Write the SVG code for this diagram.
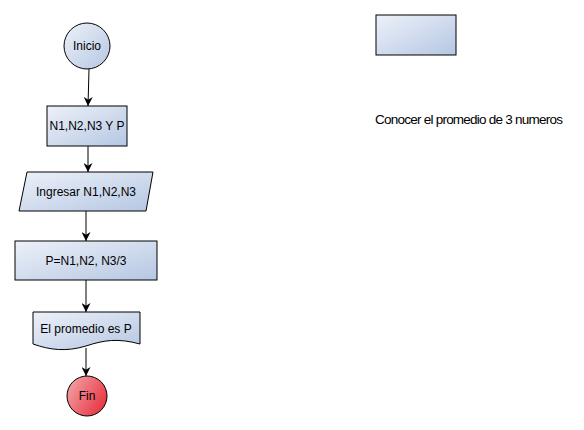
<svg xmlns="http://www.w3.org/2000/svg" width="584" height="430" viewBox="0 0 584 430">
  <defs>
    <linearGradient id="blueFill" x1="0" y1="0" x2="1" y2="1">
      <stop offset="0" stop-color="#edf1f9"/>
      <stop offset="1" stop-color="#b5c7e2"/>
    </linearGradient>
    <linearGradient id="redFill" x1="0" y1="0" x2="1" y2="0.6">
      <stop offset="0" stop-color="#f4aab0"/>
      <stop offset="1" stop-color="#e83a45"/>
    </linearGradient>
    <marker id="arrow" viewBox="0 0 10 10" refX="10" refY="5" markerWidth="9" markerHeight="9" markerUnits="userSpaceOnUse" orient="auto">
      <path d="M0,0 L10,5 L0,10 L3,5 Z" fill="#000"/>
    </marker>
    <style>
      .shape { fill: url(#blueFill); stroke: #000; stroke-width: 1; }
      .end { fill: url(#redFill); stroke: #000; stroke-width: 1; }
      .label { font-family: "Liberation Sans", Arial, sans-serif; font-size: 12px; fill: #000; text-anchor: middle; }
      .note { font-family: "Liberation Sans", Arial, sans-serif; font-size: 13.5px; fill: #000; }
      .conn { stroke: #000; stroke-width: 1; fill: none; marker-end: url(#arrow); }
    </style>
  </defs>
  <rect width="584" height="430" fill="#fff"/>

  <g id="connectors">
    <path class="conn" d="M89,69 L88,106"/>
    <path class="conn" d="M88,146 L88,172"/>
    <path class="conn" d="M86,211 L86,241"/>
    <path class="conn" d="M86,280 L86,312"/>
    <path class="conn" d="M86,348 L86,376"/>
  </g>

  <g id="inicio">
    <circle class="shape" cx="87" cy="46" r="23"/>
    <text class="label" x="87" y="50">Inicio</text>
  </g>

  <g id="variables">
    <rect class="shape" x="47" y="106" width="80" height="40"/>
    <text class="label" x="87" y="130">N1,N2,N3 Y P</text>
  </g>

  <g id="ingresar">
    <polygon class="shape" points="27,172 153,172 146,211 19,211"/>
    <text class="label" x="86" y="196">Ingresar N1,N2,N3</text>
  </g>

  <g id="calculo">
    <rect class="shape" x="15" y="241" width="142" height="39"/>
    <text class="label" x="86" y="265">P=N1,N2, N3/3</text>
  </g>

  <g id="salida">
    <path class="shape" d="M33,312 L140,312 L140,344 C118,338 104,340 86,346 C66,352 50,350 33,344 Z"/>
    <text class="label" x="86" y="333">El promedio es P</text>
  </g>

  <g id="fin">
    <circle class="end" cx="87" cy="396" r="20"/>
    <text class="label" x="87" y="400">Fin</text>
  </g>

  <g id="leyenda">
    <rect class="shape" x="376" y="15" width="80" height="40"/>
  </g>

  <text class="note" x="375" y="124" textLength="188" lengthAdjust="spacing">Conocer el promedio de 3 numeros</text>
</svg>
